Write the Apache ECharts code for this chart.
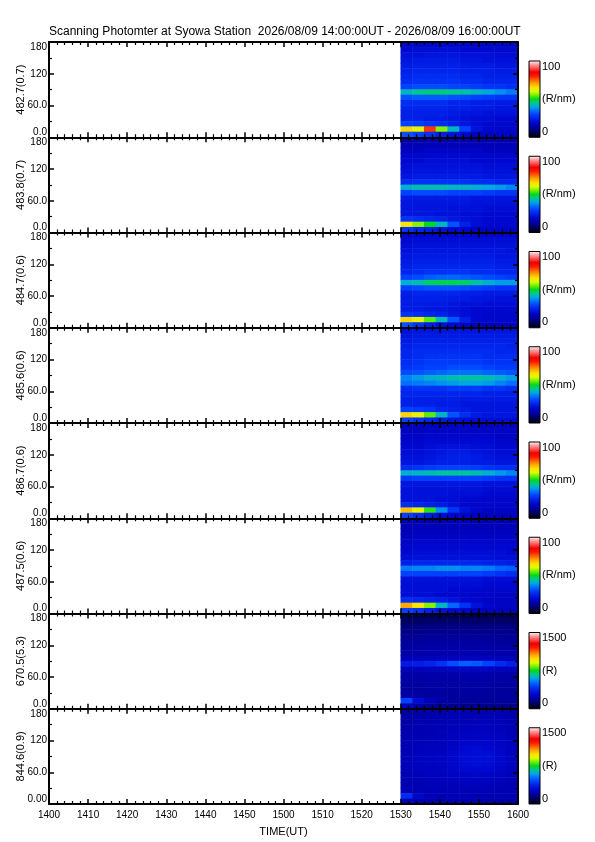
<!DOCTYPE html>
<html>
<head>
<meta charset="utf-8">
<script src="https://cdn.jsdelivr.net/npm/echarts@6/dist/echarts.min.js"></script>
<style>
  html, body { margin: 0; padding: 0; background: #fff; }
  #chart { width: 595px; height: 842px; }
</style>
</head>
<body>
<div id="chart"></div>
<script>
// channel wavelength (bandwidth) per panel, top to bottom
const channels = ['482.7(0.7)', '483.8(0.7)', '484.7(0.6)', '485.6(0.6)',
                  '486.7(0.6)', '487.5(0.6)', '670.5(5.3)', '844.6(0.9)'];
const scaleMax = [100, 100, 100, 100, 100, 100, 1500, 1500];
const units = ['(R/nm)', '(R/nm)', '(R/nm)', '(R/nm)', '(R/nm)', '(R/nm)', '(R)', '(R)'];

// 3-minute time bins with data (start of bin, UT)
const timeCols = ['1530', '1533', '1536', '1539', '1542', '1545', '1548', '1551', '1554', '1557'];
// 10 degree scan-angle bins (bottom edge)
const elevRows = ['0', '10', '20', '30', '40', '50', '60', '70', '80', '90',
                  '100', '110', '120', '130', '140', '150', '160', '170'];

const xTicks = ['1400', '1410', '1420', '1430', '1440', '1450', '1500', '1510', '1520',
                '1530', '1540', '1550', '1600'];
const yTicks = ['0.0', '60.0', '120', '180'];

// rainbow + white colour table
const cmap = ['#000000', '#000040', '#000080', '#0000b0', '#0008d0', '#0020e8', '#0040ff',
              '#0070ff', '#00a8e0', '#00c890', '#00d820', '#70f000', '#d8ff00', '#ffe000',
              '#ffa800', '#ff6000', '#ff1800', '#f00000', '#ff5050', '#ffa0a0', '#ffffff'];

// intensity grids, rows from 170-180 deg (top) down to 0-10 deg, columns = timeCols
const p4827 = [
  [19, 19, 20, 20, 20, 19, 19, 19, 19, 19],
  [20, 21, 21, 21, 21, 20, 20, 20, 20, 20],
  [22, 22, 23, 23, 23, 22, 22, 22, 21, 21],
  [23, 24, 24, 24, 24, 23, 23, 22, 22, 22],
  [24, 25, 25, 25, 25, 24, 24, 24, 23, 23],
  [25, 26, 26, 26, 26, 25, 25, 25, 24, 24],
  [26, 27, 27, 27, 27, 26, 26, 25, 25, 25],
  [27, 28, 28, 28, 28, 27, 27, 26, 26, 26],
  [30, 31, 31, 31, 30, 30, 29, 28, 28, 27],
  [42, 45, 46, 46, 45, 44, 42, 40, 38, 36],
  [32, 33, 33, 33, 32, 31, 30, 29, 28, 28],
  [27, 27, 27, 27, 26, 26, 25, 25, 24, 24],
  [26, 26, 26, 26, 25, 25, 24, 24, 23, 23],
  [25, 25, 25, 25, 24, 23, 23, 22, 22, 22],
  [25, 25, 24, 24, 23, 22, 21, 21, 20, 20],
  [30, 29, 28, 27, 25, 23, 21, 20, 20, 20],
  [66, 62, 78, 56, 42, 30, 22, 20, 19, 19],
  [32, 30, 28, 25, 22, 20, 18, 18, 18, 18]
];
const p4838 = [
  [14, 14, 15, 15, 15, 15, 15, 15, 15, 15],
  [15, 16, 16, 16, 16, 16, 16, 16, 16, 16],
  [17, 17, 18, 18, 18, 18, 18, 17, 17, 17],
  [19, 19, 20, 20, 20, 20, 19, 19, 19, 19],
  [20, 20, 21, 21, 21, 21, 20, 20, 20, 20],
  [21, 22, 22, 22, 22, 22, 22, 21, 21, 21],
  [22, 23, 23, 23, 23, 23, 23, 22, 22, 22],
  [23, 24, 24, 24, 24, 24, 24, 23, 23, 23],
  [27, 28, 28, 28, 28, 28, 27, 27, 26, 26],
  [41, 43, 43, 43, 42, 42, 41, 40, 39, 37],
  [30, 31, 31, 31, 30, 30, 30, 29, 28, 28],
  [24, 24, 24, 24, 24, 24, 23, 23, 23, 23],
  [23, 23, 23, 23, 23, 23, 22, 22, 22, 22],
  [23, 23, 23, 23, 22, 22, 22, 21, 21, 21],
  [23, 23, 23, 22, 22, 21, 21, 20, 20, 20],
  [28, 27, 26, 25, 23, 22, 21, 20, 20, 20],
  [64, 56, 50, 42, 32, 25, 21, 20, 20, 20],
  [28, 26, 24, 22, 20, 19, 18, 18, 18, 18]
];
const p4847 = [
  [19, 19, 20, 20, 20, 20, 20, 20, 20, 20],
  [20, 21, 21, 21, 21, 21, 21, 21, 21, 21],
  [21, 22, 22, 22, 22, 22, 22, 22, 22, 22],
  [22, 23, 23, 23, 23, 23, 23, 23, 23, 22],
  [23, 24, 24, 24, 24, 24, 24, 24, 23, 23],
  [24, 25, 25, 25, 25, 25, 25, 25, 24, 24],
  [25, 26, 26, 26, 26, 26, 26, 26, 25, 25],
  [26, 27, 28, 28, 28, 28, 27, 27, 26, 26],
  [30, 31, 33, 34, 34, 33, 32, 31, 30, 29],
  [41, 43, 47, 48, 48, 47, 44, 41, 39, 39],
  [30, 31, 32, 32, 32, 31, 30, 29, 28, 28],
  [25, 26, 26, 26, 26, 25, 25, 24, 24, 24],
  [24, 25, 25, 25, 24, 24, 23, 23, 22, 22],
  [24, 24, 24, 24, 23, 22, 22, 21, 21, 21],
  [24, 24, 23, 23, 22, 21, 20, 20, 20, 20],
  [28, 27, 26, 25, 23, 21, 20, 19, 19, 19],
  [66, 62, 54, 42, 32, 25, 20, 19, 19, 19],
  [32, 28, 25, 22, 20, 18, 17, 17, 17, 17]
];
const p4856 = [
  [22, 23, 23, 23, 23, 23, 23, 23, 23, 23],
  [23, 24, 24, 24, 24, 24, 24, 24, 24, 24],
  [24, 25, 25, 25, 25, 25, 25, 25, 25, 25],
  [25, 26, 26, 26, 26, 26, 26, 26, 26, 25],
  [26, 27, 27, 27, 27, 27, 27, 27, 26, 26],
  [26, 27, 28, 28, 28, 28, 28, 27, 27, 27],
  [27, 28, 29, 29, 29, 29, 29, 28, 28, 28],
  [28, 29, 30, 30, 31, 31, 31, 30, 29, 29],
  [31, 32, 33, 34, 35, 35, 35, 34, 33, 32],
  [37, 39, 41, 42, 43, 44, 44, 43, 41, 39],
  [35, 36, 37, 38, 39, 40, 40, 39, 37, 35],
  [27, 28, 28, 28, 29, 29, 29, 28, 28, 27],
  [26, 26, 26, 26, 26, 26, 26, 25, 25, 25],
  [25, 25, 25, 25, 25, 24, 24, 24, 24, 24],
  [25, 25, 25, 24, 24, 23, 23, 23, 23, 23],
  [30, 29, 28, 26, 25, 24, 23, 23, 23, 23],
  [66, 62, 54, 42, 32, 27, 24, 23, 23, 23],
  [30, 28, 26, 24, 22, 21, 21, 21, 21, 21]
];
const p4867 = [
  [16, 16, 17, 17, 17, 17, 17, 17, 17, 17],
  [17, 17, 18, 18, 18, 18, 18, 18, 18, 18],
  [18, 18, 19, 19, 19, 19, 19, 19, 18, 18],
  [19, 19, 20, 20, 20, 20, 20, 20, 19, 19],
  [20, 20, 21, 22, 22, 22, 21, 21, 20, 20],
  [21, 21, 22, 23, 24, 24, 23, 22, 21, 21],
  [22, 22, 23, 24, 25, 25, 24, 23, 22, 22],
  [23, 23, 24, 25, 25, 25, 24, 24, 23, 23],
  [27, 28, 29, 30, 30, 30, 29, 28, 27, 27],
  [41, 42, 43, 44, 44, 44, 43, 41, 39, 37],
  [29, 30, 30, 30, 30, 30, 30, 29, 28, 28],
  [23, 23, 23, 23, 23, 23, 23, 22, 22, 22],
  [22, 22, 22, 22, 22, 22, 22, 21, 21, 21],
  [22, 22, 22, 22, 21, 21, 21, 20, 20, 20],
  [22, 22, 22, 21, 21, 20, 20, 19, 19, 19],
  [27, 26, 25, 24, 22, 20, 19, 19, 19, 19],
  [68, 62, 52, 38, 28, 22, 19, 18, 18, 18],
  [30, 27, 24, 21, 19, 18, 17, 17, 17, 17]
];
const p4875 = [
  [15, 15, 15, 15, 15, 15, 15, 15, 15, 15],
  [15, 16, 16, 16, 16, 16, 16, 16, 16, 16],
  [16, 17, 17, 17, 17, 17, 17, 17, 17, 17],
  [17, 18, 18, 18, 18, 18, 18, 18, 18, 18],
  [18, 19, 19, 19, 19, 19, 19, 19, 19, 19],
  [19, 20, 20, 20, 20, 20, 20, 20, 20, 20],
  [20, 21, 21, 21, 21, 21, 21, 21, 21, 20],
  [21, 22, 22, 22, 22, 22, 22, 22, 21, 21],
  [25, 26, 26, 26, 26, 26, 26, 25, 25, 24],
  [36, 37, 37, 38, 38, 37, 37, 36, 34, 33],
  [30, 30, 30, 30, 30, 30, 30, 29, 28, 27],
  [22, 22, 22, 22, 22, 22, 22, 21, 21, 21],
  [21, 21, 21, 21, 21, 21, 21, 20, 20, 20],
  [21, 21, 21, 21, 20, 20, 20, 19, 19, 19],
  [21, 21, 21, 20, 20, 19, 19, 19, 18, 18],
  [27, 26, 25, 24, 22, 20, 19, 18, 18, 18],
  [70, 64, 56, 42, 34, 28, 22, 19, 18, 18],
  [30, 28, 25, 22, 20, 18, 17, 17, 17, 17]
];
const p6705 = [
  [90, 95, 100, 100, 100, 100, 100, 100, 100, 100],
  [115, 120, 125, 125, 125, 125, 125, 125, 125, 120],
  [140, 145, 150, 150, 150, 150, 150, 150, 150, 145],
  [160, 165, 170, 170, 170, 170, 170, 170, 165, 165],
  [180, 185, 190, 190, 190, 190, 190, 190, 185, 185],
  [190, 195, 200, 200, 200, 200, 200, 200, 195, 195],
  [200, 205, 210, 210, 210, 210, 210, 210, 205, 205],
  [210, 215, 220, 220, 220, 225, 225, 220, 215, 215],
  [235, 240, 245, 250, 250, 255, 255, 250, 245, 240],
  [350, 370, 390, 420, 470, 500, 490, 450, 400, 370],
  [245, 250, 255, 260, 265, 270, 270, 265, 255, 250],
  [210, 215, 215, 220, 220, 220, 220, 215, 215, 210],
  [205, 205, 210, 210, 210, 210, 210, 210, 205, 205],
  [200, 200, 205, 205, 205, 205, 205, 205, 200, 200],
  [195, 195, 200, 200, 200, 200, 200, 200, 195, 195],
  [215, 205, 200, 195, 195, 195, 195, 195, 190, 190],
  [450, 310, 245, 215, 205, 200, 195, 195, 190, 190],
  [250, 210, 190, 180, 175, 170, 170, 170, 170, 170]
];
const p8446 = [
  [200, 210, 215, 220, 225, 230, 230, 230, 225, 220],
  [205, 215, 220, 225, 230, 235, 240, 240, 235, 225],
  [210, 220, 225, 230, 235, 240, 245, 245, 240, 230],
  [215, 225, 230, 235, 240, 245, 250, 250, 245, 235],
  [220, 230, 235, 240, 245, 255, 260, 260, 250, 240],
  [225, 235, 240, 245, 255, 265, 270, 270, 260, 245],
  [230, 240, 245, 250, 265, 280, 290, 285, 270, 250],
  [235, 245, 250, 255, 275, 295, 305, 300, 280, 255],
  [240, 250, 255, 265, 285, 305, 315, 310, 285, 260],
  [245, 255, 260, 270, 290, 310, 320, 315, 290, 265],
  [245, 255, 260, 270, 290, 305, 315, 310, 285, 260],
  [240, 250, 255, 265, 280, 295, 300, 295, 275, 255],
  [235, 245, 250, 255, 265, 275, 280, 275, 260, 245],
  [230, 240, 245, 250, 255, 260, 265, 260, 250, 240],
  [225, 235, 240, 240, 245, 250, 250, 245, 240, 235],
  [230, 230, 235, 235, 240, 240, 240, 240, 235, 230],
  [400, 280, 245, 235, 235, 235, 235, 235, 230, 225],
  [250, 230, 225, 220, 220, 220, 220, 220, 215, 215]
];
const grids = [p4827, p4838, p4847, p4856, p4867, p4875, p6705, p8446];

// ---- layout ----
const FONT = '"Liberation Sans", Arial, sans-serif';
const TOP = 42, PH = 95.25, LEFT = 49, RIGHT = 77;
const BAR_X = 529, BAR_W = 11, BAR_OFF = 19;

// 3-minute category bins over the whole 14:00-16:00 axis (for the heatmap cells)
const bins = [];
for (let m = 0; m < 120; m += 3) {
  const h = 14 + Math.floor(m / 60), mm = m % 60;
  bins.push(String(h) + String(mm).padStart(2, '0'));
}

const gridOpt = [], xAxes = [], yAxes = [], series = [], visualMaps = [], graphics = [];
const stops = cmap.map((c, k) => ({ offset: k / (cmap.length - 1), color: c }));

channels.forEach((name, i) => {
  const last = i === channels.length - 1;
  const top = TOP + i * PH;
  gridOpt.push({ left: LEFT, right: RIGHT, top: top, height: PH });

  const tickCommon = {
    axisLine: { onZero: false, lineStyle: { color: '#000', width: 2 } },
    axisTick: { inside: true, length: 5, lineStyle: { color: '#000', width: 1.5 } },
    minorTick: { show: true, length: 3, lineStyle: { color: '#000', width: 1.2 } },
    splitLine: { show: false },
    z: 10
  };
  const labelStyle = { color: '#000', fontSize: 10, fontFamily: FONT };

  // display x axes (bottom / top), category x axis for the cells
  xAxes.push(Object.assign({
    gridIndex: i, type: 'value', position: 'bottom', min: 0, max: 120, interval: 10,
    axisLabel: Object.assign({ show: last, margin: 6, formatter: v => xTicks[v / 10] }, labelStyle),
    name: last ? 'TIME(UT)' : '', nameLocation: 'middle', nameGap: 22, nameMoveOverlap: false,
    nameTextStyle: { color: '#000', fontSize: 11, fontFamily: FONT }
  }, tickCommon, { minorTick: Object.assign({ splitNumber: 5 }, tickCommon.minorTick) }));
  xAxes.push(Object.assign({
    gridIndex: i, type: 'value', position: 'top', min: 0, max: 120, interval: 10,
    axisLabel: { show: false }
  }, tickCommon, { minorTick: Object.assign({ splitNumber: 5 }, tickCommon.minorTick) }));
  xAxes.push({ gridIndex: i, type: 'category', data: bins, show: false, position: 'bottom' });

  // display y axes (left / right), category y axis for the cells
  yAxes.push(Object.assign({
    gridIndex: i, type: 'value', position: 'left', min: 0, max: 180, interval: 60,
    axisLabel: Object.assign({
      margin: 2,
      formatter: v => (last && v === 0) ? '0.00' : yTicks[v / 60],
      verticalAlignMinLabel: 'bottom', verticalAlignMaxLabel: 'top'
    }, labelStyle),
    name: name, nameLocation: 'middle', nameGap: 23, nameMoveOverlap: false,
    nameTextStyle: { color: '#000', fontSize: 11, fontFamily: FONT }
  }, tickCommon, { minorTick: Object.assign({ splitNumber: 2 }, tickCommon.minorTick) }));
  yAxes.push(Object.assign({
    gridIndex: i, type: 'value', position: 'right', min: 0, max: 180, interval: 60,
    axisLabel: { show: false }
  }, tickCommon, { minorTick: Object.assign({ splitNumber: 2 }, tickCommon.minorTick) }));
  yAxes.push({ gridIndex: i, type: 'category', data: elevRows, show: false, position: 'left' });

  const rows = grids[i];
  const data = [];
  rows.forEach((row, r) => {
    row.forEach((v, c) => {
      data.push([bins.indexOf(timeCols[c]), elevRows.length - 1 - r, v]);
    });
  });
  series.push({
    type: 'heatmap', xAxisIndex: 3 * i + 2, yAxisIndex: 3 * i + 2,
    data: data, progressive: 0, emphasis: { disabled: true }, z: 2
  });
  visualMaps.push({
    type: 'continuous', show: false, seriesIndex: i, dimension: 2,
    min: 0, max: scaleMax[i], inRange: { color: cmap }
  });

  // colour bar with its labels
  const barTop = top + BAR_OFF, barBot = top + PH;
  graphics.push({
    type: 'rect', silent: true,
    shape: { x: BAR_X, y: barTop, width: BAR_W, height: barBot - barTop },
    style: { fill: { type: 'linear', x: 0, y: 1, x2: 0, y2: 0, colorStops: stops },
             stroke: '#000', lineWidth: 1 }
  });
  const txt = (t, y, va) => ({
    type: 'text', silent: true, x: BAR_X + BAR_W + 2, y: y,
    style: { text: t, fill: '#000', font: '11px ' + FONT, textVerticalAlign: va, verticalAlign: va }
  });
  graphics.push(txt(String(scaleMax[i]), barTop, 'top'));
  graphics.push(txt(units[i], (barTop + barBot) / 2, 'middle'));
  graphics.push(txt('0', barBot, 'bottom'));
});

const chart = echarts.init(document.getElementById('chart'));
chart.setOption({
  animation: false,
  backgroundColor: '#fff',
  title: {
    text: 'Scanning Photomter at Syowa Station  2026/08/09 14:00:00UT - 2026/08/09 16:00:00UT',
    left: LEFT, top: 26, padding: 0,
    textStyle: { fontSize: 12, fontWeight: 'normal', color: '#000', fontFamily: FONT }
  },
  grid: gridOpt,
  xAxis: xAxes,
  yAxis: yAxes,
  visualMap: visualMaps,
  series: series,
  graphic: graphics
});
</script>
</body>
</html>
